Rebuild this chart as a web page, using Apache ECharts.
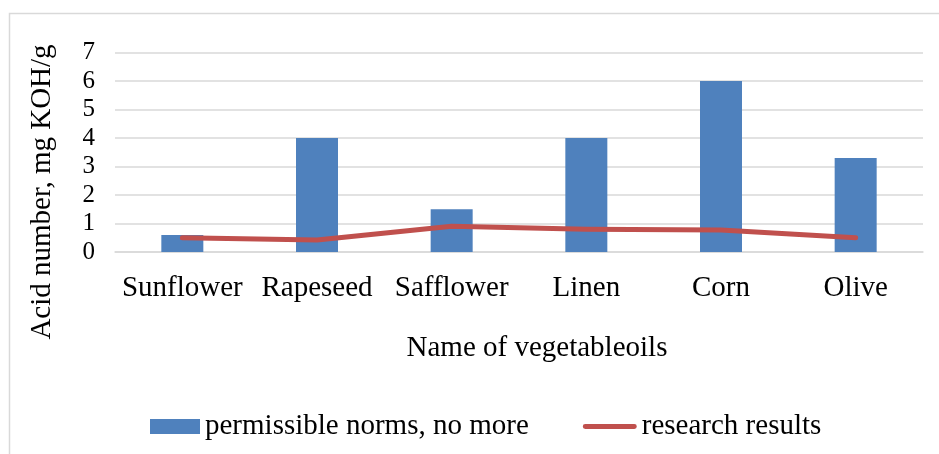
<!DOCTYPE html>
<html>
<head>
<meta charset="utf-8">
<script src="https://cdn.jsdelivr.net/npm/echarts@6/dist/echarts.min.js"></script>
<style>
  html, body { margin: 0; padding: 0; background: #fff; }
  #chart { width: 939px; height: 454px; }
</style>
</head>
<body>
<div id="chart"></div>
<script>
var oils = ['Sunflower', 'Rapeseed', 'Safflower', 'Linen', 'Corn', 'Olive'];
var norms = [0.6, 4, 1.5, 4, 6, 3.3];
var results = [0.5, 0.42, 0.9, 0.8, 0.77, 0.5];
var yTicks = [0, 7, 1];   // min, max, interval

var font = '"Liberation Serif", "Times New Roman", serif';

var chart = echarts.init(document.getElementById('chart'));

var option = {
  backgroundColor: '#fff',
  animation: false,
  grid: { left: 115, right: 16, top: 52.5, bottom: 202 },
  legend: {
    left: 141,
    top: 407,
    itemWidth: 54,
    itemHeight: 15,
    itemGap: 54,
    textStyle: { fontFamily: font, fontSize: 29, color: '#000' },
    data: [
      { name: 'permissible norms, no more', icon: 'path://M0,0 M4,0h50v15H4z M54,15' },
      { name: 'research results', icon: 'path://M0,0 M2,5h50a2.5,2.5 0 0 1 0,5h-50a2.5,2.5 0 0 1 0,-5z M54,15' }
    ]
  },
  xAxis: {
    type: 'category',
    data: oils,
    axisLine: { lineStyle: { color: '#D9D9D9', width: 1.5 } },
    axisTick: { show: false },
    axisLabel: { fontFamily: font, fontSize: 29, color: '#000', margin: 22, interval: 0 },
    name: 'Name of vegetableoils',
    nameLocation: 'middle',
    nameGap: 82,
    nameTextStyle: { fontFamily: font, fontSize: 29, color: '#000', padding: [0, 0, 0, 36] }
  },
  yAxis: {
    type: 'value',
    min: yTicks[0],
    max: yTicks[1],
    interval: yTicks[2],
    axisLine: { show: false },
    axisTick: { show: false },
    axisLabel: { fontFamily: font, fontSize: 25, color: '#000', margin: 20 },
    splitLine: { lineStyle: { color: '#D9D9D9', width: 1.5 } }
  },
  graphic: [
    {
      type: 'rect',
      shape: { x: 9.5, y: 13.5, width: 960, height: 460 },
      style: { fill: 'none', stroke: '#D9D9D9', lineWidth: 1.5 },
      silent: true
    },
    {
      type: 'text',
      x: 42,
      y: 192,
      rotation: Math.PI / 2,
      style: {
        text: 'Acid number, mg KOH/g',
        fontFamily: font,
        fontSize: 29,
        fill: '#000',
        textAlign: 'center',
        textVerticalAlign: 'middle'
      }
    }
  ],
  series: [
    {
      name: 'permissible norms, no more',
      type: 'bar',
      data: norms,
      barWidth: 42,
      itemStyle: { color: '#4F81BD' }
    },
    {
      name: 'research results',
      type: 'line',
      data: results,
      symbol: 'none',
      itemStyle: { color: '#C0504D' },
      lineStyle: { color: '#C0504D', width: 5, cap: 'round', join: 'round' }
    }
  ]
};

chart.setOption(option);
</script>
</body>
</html>
